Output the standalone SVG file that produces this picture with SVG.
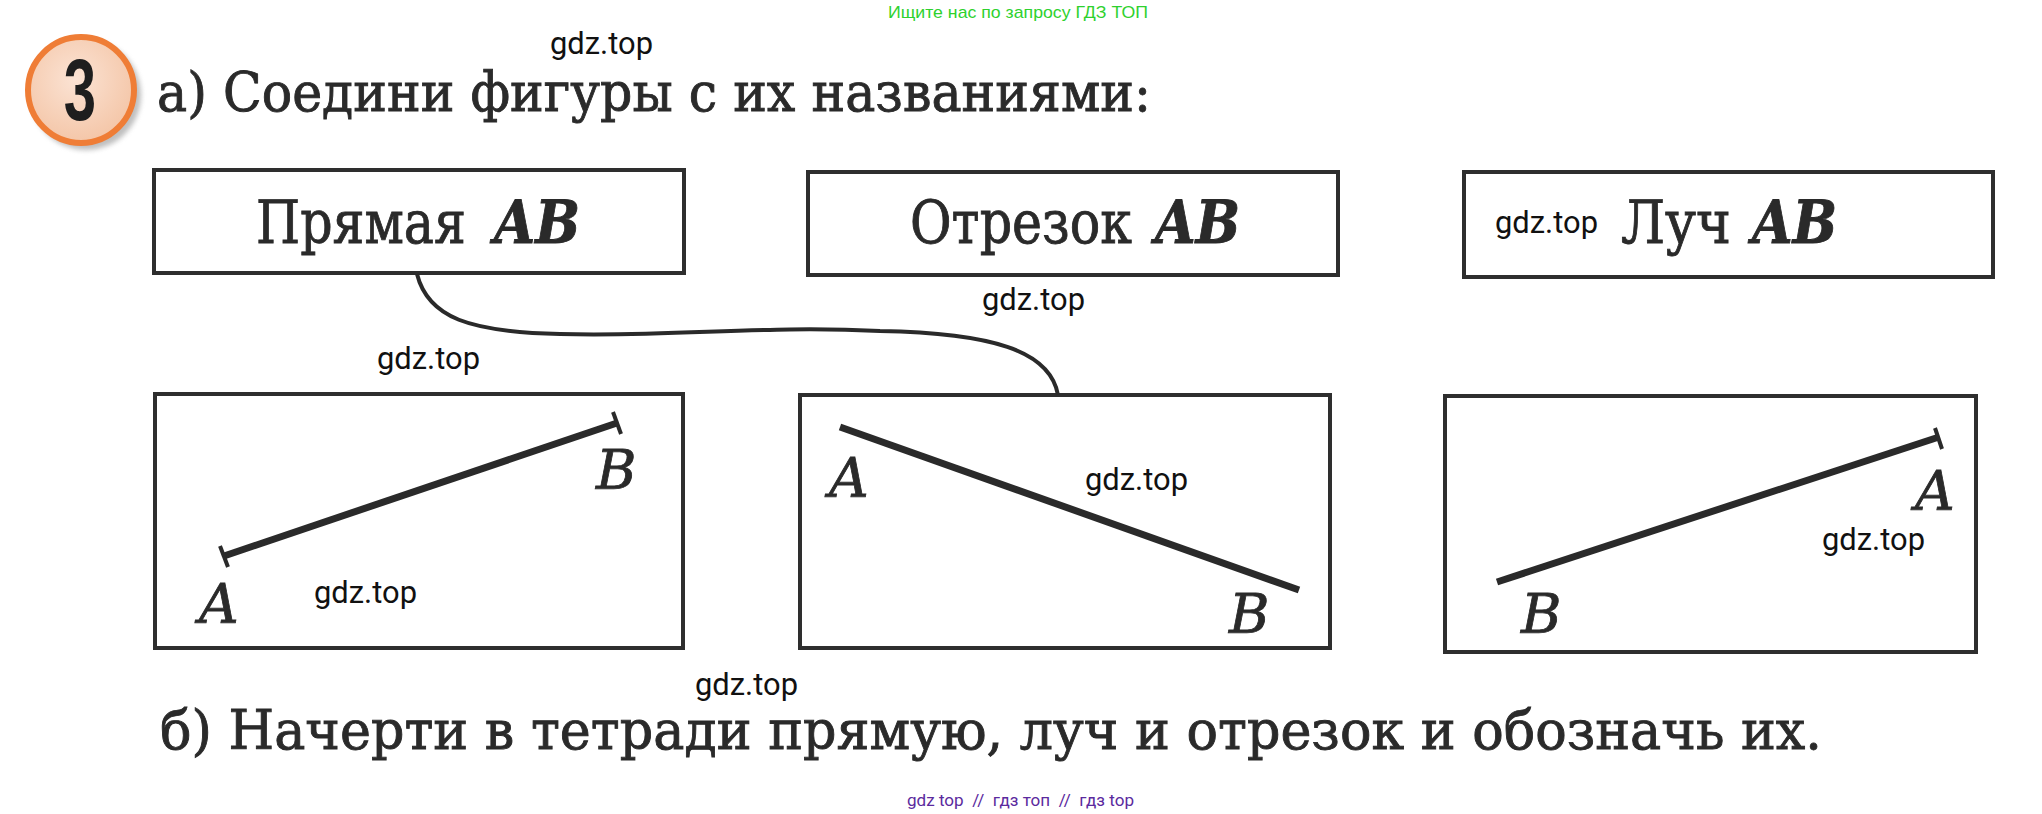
<svg xmlns="http://www.w3.org/2000/svg" width="2042" height="814" viewBox="0 0 2042 814">
<defs>
<radialGradient id="peach" cx="0.45" cy="0.4" r="0.6">
<stop offset="0" stop-color="#fbe3d4"/>
<stop offset="1" stop-color="#f4c6a8"/>
</radialGradient>
<filter id="blur" x="-20%" y="-20%" width="140%" height="140%"><feGaussianBlur stdDeviation="2.5"/></filter>
</defs>
<style>
.box{fill:none;stroke:#2e2e2e;stroke-width:4}
.fig{stroke:#2a2a2a;stroke-width:7;stroke-linecap:butt;fill:none}
.tick{stroke:#2a2a2a;stroke-width:4;fill:none}
.serif{font-family:"DejaVu Serif","Liberation Serif",serif;fill:#2a2a2a;stroke:#2a2a2a;stroke-width:0.9}
.lbl{font-family:"DejaVu Serif","Liberation Serif",serif;font-style:italic;font-size:55px;fill:#2a2a2a;stroke:#2a2a2a;stroke-width:0.8}
.ab{font-weight:bold;font-style:italic}
.wm{font-family:Roboto,"Liberation Sans",sans-serif;font-size:32px;fill:#111}
.conn{fill:none;stroke:#2a2a2a;stroke-width:4}
</style>
<rect width="2042" height="814" fill="#ffffff"/>
<text x="888" y="18" font-family="'Liberation Sans',sans-serif" font-size="17" fill="#2ed12e" textLength="260" lengthAdjust="spacingAndGlyphs">Ищите нас по запросу ГДЗ ТОП</text>
<g id="badge">
<circle cx="86" cy="95" r="55" fill="#8a8a8a" opacity="0.55" filter="url(#blur)"/>
<circle cx="81" cy="90" r="53" fill="url(#peach)" stroke="#ef7d36" stroke-width="6"/>
<text transform="translate(80,120) scale(0.66,1)" x="0" y="0" text-anchor="middle" font-family="'Liberation Sans',sans-serif" font-weight="bold" font-size="88" fill="#1e1e1e">3</text>
</g>
<text id="title" class="serif" x="157" y="111" font-size="54" textLength="994" lengthAdjust="spacingAndGlyphs">а) Соедини фигуры с их названиями:</text>
<g id="name-line">
<rect class="box" x="154" y="170" width="530" height="103"/>
<text class="serif" x="256" y="243" font-size="60" textLength="210" lengthAdjust="spacingAndGlyphs">Прямая</text>
<text class="serif ab" x="494" y="243" font-size="60" textLength="86" lengthAdjust="spacingAndGlyphs">AB</text>
</g>
<g id="name-segment">
<rect class="box" x="808" y="172" width="530" height="103"/>
<text class="serif" x="910" y="243" font-size="60" textLength="222" lengthAdjust="spacingAndGlyphs">Отрезок</text>
<text class="serif ab" x="1155" y="243" font-size="60" textLength="85" lengthAdjust="spacingAndGlyphs">AB</text>
</g>
<g id="name-ray">
<rect class="box" x="1464" y="172" width="529" height="105"/>
<text class="serif" x="1621" y="243" font-size="60" textLength="110" lengthAdjust="spacingAndGlyphs">Луч</text>
<text class="serif ab" x="1752" y="243" font-size="60" textLength="85" lengthAdjust="spacingAndGlyphs">AB</text>
</g>
<g id="fig-segment">
<rect class="box" x="155" y="394" width="528" height="254"/>
<line class="fig" x1="224" y1="556" x2="617" y2="423"/>
<line class="tick" x1="220" y1="546" x2="228" y2="567"/>
<line class="tick" x1="613" y1="412" x2="621" y2="434"/>
<text class="lbl" x="199" y="623">A</text>
<text class="lbl" x="596" y="489">B</text>
</g>
<g id="fig-line">
<rect class="box" x="800" y="395" width="530" height="253"/>
<line class="fig" x1="840" y1="427" x2="1299" y2="590"/>
<text class="lbl" x="829" y="497">A</text>
<text class="lbl" x="1229" y="633">B</text>
</g>
<g id="fig-ray">
<rect class="box" x="1445" y="396" width="531" height="256"/>
<line class="fig" x1="1497" y1="582" x2="1939" y2="437"/>
<line class="tick" x1="1935" y1="428" x2="1942" y2="449"/>
<text class="lbl" x="1915" y="510">A</text>
<text class="lbl" x="1521" y="633">B</text>
</g>
<g id="connectors">
<path class="conn" d="M417,274 C428,318 470,332 560,334 C680,337 760,325 880,331 C990,333 1050,350 1058,395"/>
</g>
<text id="task-b" class="serif" x="160" y="749" font-size="54" textLength="1662" lengthAdjust="spacingAndGlyphs">б) Начерти в тетради прямую, луч и отрезок и обозначь их.</text>
<g id="watermarks">
<text class="wm" x="550" y="54" textLength="103" lengthAdjust="spacingAndGlyphs">gdz.top</text>
<text class="wm" x="1495" y="233" textLength="103" lengthAdjust="spacingAndGlyphs">gdz.top</text>
<text class="wm" x="982" y="310" textLength="103" lengthAdjust="spacingAndGlyphs">gdz.top</text>
<text class="wm" x="377" y="369" textLength="103" lengthAdjust="spacingAndGlyphs">gdz.top</text>
<text class="wm" x="1085" y="490" textLength="103" lengthAdjust="spacingAndGlyphs">gdz.top</text>
<text class="wm" x="314" y="603" textLength="103" lengthAdjust="spacingAndGlyphs">gdz.top</text>
<text class="wm" x="1822" y="550" textLength="103" lengthAdjust="spacingAndGlyphs">gdz.top</text>
<text class="wm" x="695" y="695" textLength="103" lengthAdjust="spacingAndGlyphs">gdz.top</text>
</g>
<text x="907" y="806" font-family="Roboto,'Liberation Sans',sans-serif" font-size="17" fill="#5b2a9e" textLength="227" lengthAdjust="spacingAndGlyphs" xml:space="preserve">gdz top  //  гдз топ  //  гдз top</text>
</svg>
